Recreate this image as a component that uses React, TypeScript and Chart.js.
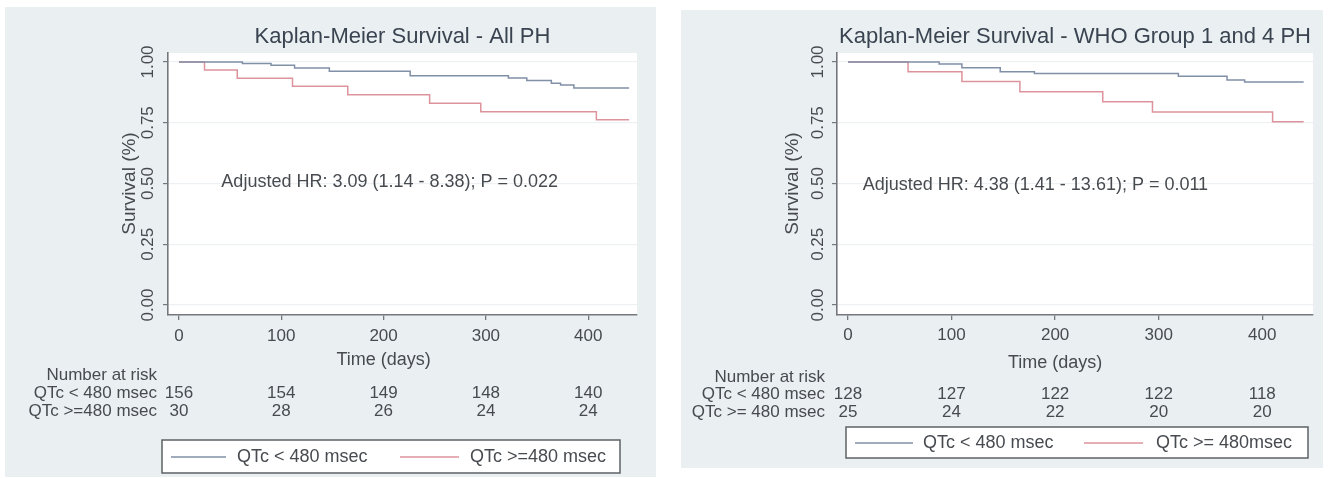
import { useEffect, useRef } from "react";
import { Chart, registerables } from "chart.js";

Chart.register(...registerables);

// Shared axis ticks
const timeTicks = [0, 100, 200, 300, 400];
const survivalTicks = [0, 0.25, 0.5, 0.75, 1];
const survivalTickLabels = ["0.00", "0.25", "0.50", "0.75", "1.00"];

// Panel 1: all PH patients
const allTitle = "Kaplan-Meier Survival - All PH";
const allNote = "Adjusted HR: 3.09 (1.14 - 8.38); P = 0.022";
const allDaysLow = [0, 62, 90, 113, 147, 226, 322, 340, 364, 373, 386, 440];
const allSurvLow = [1, 0.994, 0.987, 0.975, 0.962, 0.943, 0.934, 0.924, 0.913, 0.905, 0.893, 0.893];
const allDaysHigh = [0, 25, 57, 111, 165, 245, 295, 408, 440];
const allSurvHigh = [1, 0.967, 0.933, 0.9, 0.865, 0.83, 0.795, 0.762, 0.762];
const allRiskLow = [156, 154, 149, 148, 140];
const allRiskHigh = [30, 28, 26, 24, 24];
const allRowLabels = ["QTc < 480 msec", "QTc >=480 msec"];
const allLegendLabels = ["QTc < 480 msec", "QTc >=480 msec"];

// Panel 2: WHO group 1 and 4 PH
const whoTitle = "Kaplan-Meier Survival - WHO Group 1 and 4 PH";
const whoNote = "Adjusted HR: 4.38 (1.41 - 13.61); P = 0.011";
const whoDaysLow = [0, 88, 110, 147, 180, 319, 366, 383, 440];
const whoSurvLow = [1, 0.992, 0.976, 0.96, 0.953, 0.941, 0.926, 0.918, 0.918];
const whoDaysHigh = [0, 58, 110, 166, 246, 294, 410, 440];
const whoSurvHigh = [1, 0.96, 0.92, 0.878, 0.836, 0.794, 0.754, 0.754];
const whoRiskLow = [128, 127, 122, 122, 118];
const whoRiskHigh = [25, 24, 22, 20, 20];
const whoRowLabels = ["QTc < 480 msec", "QTc >= 480 msec"];
const whoLegendLabels = ["QTc < 480 msec", "QTc >= 480msec"];

const PANEL_BG = "#eaf0f2";
const LOW_COLOR = "#8090a6";
const HIGH_COLOR = "#dd939c";
const TEXT = "#474b50";
const AXIS = "#74787d";
const FONT = '"Liberation Sans", Arial, sans-serif';
const f = (px: number) => `${px}px ${FONT}`;

type Layout = {
  left: number; top: number; width: number; height: number;
  area: { left: number; top: number; right: number; bottom: number };
  xMin: number; xMax: number;
  titleY: number;
  yLabelGap: number; yTitleGap: number;
  xLabelDy: number; xTitleDy: number;
  riskHeadDy: number; riskRow1Dy: number; riskRow2Dy: number; riskLabelGap: number;
  note: { x: number; y: number };
  legend: { x: number; y: number; w: number; h: number; cy: number;
    s1: [number, number]; t1: number; s2: [number, number]; t2: number };
};

type PanelProps = {
  title: string; note: string;
  daysLow: number[]; survLow: number[]; daysHigh: number[]; survHigh: number[];
  riskLow: number[]; riskHigh: number[];
  rowLabels: string[]; legendLabels: string[];
  layout: Layout;
};

const kmDecor = {
  id: "kmDecor",
  beforeDraw(chart: any) {
    const { ctx, chartArea: a, width, height } = chart;
    ctx.save();
    ctx.fillStyle = PANEL_BG;
    ctx.fillRect(0, 0, width, height);
    ctx.fillStyle = "#ffffff";
    ctx.fillRect(a.left, a.top, a.right - a.left, a.bottom - a.top);
    ctx.restore();
  },
  afterDraw(chart: any, _args: any, opts: any) {
    const p: PanelProps = opts.panel;
    if (!p) return;
    const L = p.layout;
    const { ctx, chartArea: a } = chart;
    const xs = chart.scales.x;
    const ys = chart.scales.y;
    ctx.save();
    ctx.textBaseline = "middle";

    // title
    ctx.fillStyle = "#3a4350";
    ctx.font = f(22);
    ctx.textAlign = "center";
    ctx.fillText(p.title, (a.left + a.right) / 2, L.titleY);

    // rotated y tick labels
    ctx.fillStyle = TEXT;
    ctx.font = f(17);
    survivalTicks.forEach((v, i) => {
      ctx.save();
      ctx.translate(a.left - L.yLabelGap, ys.getPixelForValue(v));
      ctx.rotate(-Math.PI / 2);
      ctx.fillText(survivalTickLabels[i], 0, 0);
      ctx.restore();
    });

    // y title
    ctx.font = f(19);
    ctx.save();
    ctx.translate(a.left - L.yTitleGap, ys.getPixelForValue(0.5));
    ctx.rotate(-Math.PI / 2);
    ctx.fillText("Survival (%)", 0, 0);
    ctx.restore();

    // x tick labels
    ctx.font = f(17);
    timeTicks.forEach((t) => {
      ctx.fillText(String(t), xs.getPixelForValue(t), a.bottom + L.xLabelDy);
    });
    ctx.font = f(18);
    ctx.fillText("Time (days)", xs.getPixelForValue(200), a.bottom + L.xTitleDy);

    // hazard ratio note
    ctx.fillText(p.note, xs.getPixelForValue(L.note.x), ys.getPixelForValue(L.note.y));

    // number at risk table
    ctx.font = f(17);
    ctx.textAlign = "right";
    const lx = a.left - L.riskLabelGap;
    ctx.fillText("Number at risk", lx, a.bottom + L.riskHeadDy);
    ctx.fillText(p.rowLabels[0], lx, a.bottom + L.riskRow1Dy);
    ctx.fillText(p.rowLabels[1], lx, a.bottom + L.riskRow2Dy);
    ctx.textAlign = "center";
    timeTicks.forEach((t, i) => {
      const x = xs.getPixelForValue(t);
      ctx.fillText(String(p.riskLow[i]), x, a.bottom + L.riskRow1Dy);
      ctx.fillText(String(p.riskHigh[i]), x, a.bottom + L.riskRow2Dy);
    });

    // legend box
    const g = L.legend;
    ctx.fillStyle = "#ffffff";
    ctx.fillRect(g.x, g.y, g.w, g.h);
    ctx.strokeStyle = "#5d6166";
    ctx.lineWidth = 1.5;
    ctx.strokeRect(g.x, g.y, g.w, g.h);
    ctx.lineWidth = 1.5;
    ctx.strokeStyle = LOW_COLOR;
    ctx.beginPath();
    ctx.moveTo(g.s1[0], g.cy);
    ctx.lineTo(g.s1[1], g.cy);
    ctx.stroke();
    ctx.strokeStyle = HIGH_COLOR;
    ctx.beginPath();
    ctx.moveTo(g.s2[0], g.cy);
    ctx.lineTo(g.s2[1], g.cy);
    ctx.stroke();
    ctx.fillStyle = TEXT;
    ctx.font = f(18);
    ctx.textAlign = "left";
    ctx.fillText(p.legendLabels[0], g.t1, g.cy);
    ctx.fillText(p.legendLabels[1], g.t2, g.cy);

    ctx.restore();
  },
};

function KMPanel(props: PanelProps) {
  const ref = useRef<HTMLCanvasElement>(null);
  useEffect(() => {
    const L = props.layout;
    const pts = (d: number[], s: number[]) => d.map((x, i) => ({ x, y: s[i] }));
    const chart = new Chart(ref.current as HTMLCanvasElement, {
      type: "line",
      data: {
        datasets: [
          {
            label: props.legendLabels[0],
            data: pts(props.daysLow, props.survLow),
            borderColor: LOW_COLOR,
            borderWidth: 1.5,
            pointRadius: 0,
            stepped: true,
            fill: false,
          },
          {
            label: props.legendLabels[1],
            data: pts(props.daysHigh, props.survHigh),
            borderColor: HIGH_COLOR,
            borderWidth: 1.5,
            pointRadius: 0,
            stepped: true,
            fill: false,
          },
        ],
      },
      options: {
        animation: false,
        responsive: false,
        devicePixelRatio: 1,
        layout: {
          padding: {
            left: 0,
            top: L.area.top,
            right: L.width - L.area.right,
            bottom: L.height - L.area.bottom - 30,
          },
        },
        plugins: {
          legend: { display: false },
          title: { display: false },
          tooltip: { enabled: false },
          kmDecor: { panel: props },
        } as any,
        scales: {
          x: {
            type: "linear",
            min: L.xMin,
            max: L.xMax,
            afterBuildTicks: (s: any) => {
              s.ticks = timeTicks.map((v) => ({ value: v }));
            },
            afterFit: (s: any) => {
              s.height = 30;
            },
            ticks: { display: false },
            grid: {
              drawOnChartArea: false,
              drawTicks: true,
              tickLength: 5,
              tickColor: AXIS,
              lineWidth: 1.3,
            },
            border: { display: true, color: AXIS, width: 1.6 },
          },
          y: {
            type: "linear",
            min: -0.041,
            max: 1.037,
            afterBuildTicks: (s: any) => {
              s.ticks = survivalTicks.map((v) => ({ value: v }));
            },
            afterFit: (s: any) => {
              s.width = L.area.left;
            },
            ticks: { display: false },
            grid: {
              drawOnChartArea: true,
              color: "#edf1f4",
              drawTicks: true,
              tickLength: 5,
              tickColor: AXIS,
              lineWidth: 1.2,
            },
            border: { display: true, color: AXIS, width: 1.6 },
          },
        },
      },
      plugins: [kmDecor],
    });
    return () => chart.destroy();
  }, [props]);

  const L = props.layout;
  return (
    <canvas
      ref={ref}
      width={L.width}
      height={L.height}
      style={{ position: "absolute", left: L.left, top: L.top, width: L.width, height: L.height }}
    />
  );
}

const allLayout: Layout = {
  left: 5, top: 7, width: 651, height: 470,
  area: { left: 163, top: 46, right: 632, bottom: 308 },
  xMin: -10.7, xMax: 447.7,
  titleY: 30,
  yLabelGap: 20, yTitleGap: 38,
  xLabelDy: 21, xTitleDy: 45,
  riskHeadDy: 60, riskRow1Dy: 78, riskRow2Dy: 96, riskLabelGap: 11,
  note: { x: 206, y: 0.506 },
  legend: { x: 157, y: 433, w: 458, h: 33, cy: 450, s1: [166, 221], t1: 232, s2: [395, 454], t2: 465 },
};

const whoLayout: Layout = {
  left: 681, top: 10, width: 642, height: 458,
  area: { left: 156, top: 43, right: 632, bottom: 305 },
  xMin: -10.6, xMax: 449,
  titleY: 27,
  yLabelGap: 19, yTitleGap: 44,
  xLabelDy: 20, xTitleDy: 48,
  riskHeadDy: 62, riskRow1Dy: 79, riskRow2Dy: 97, riskLabelGap: 12,
  note: { x: 181, y: 0.494 },
  legend: { x: 165, y: 417, w: 462, h: 31, cy: 433, s1: [174, 232], t1: 242, s2: [403, 462], t2: 475 },
};

const allPanel: PanelProps = {
  title: allTitle, note: allNote,
  daysLow: allDaysLow, survLow: allSurvLow, daysHigh: allDaysHigh, survHigh: allSurvHigh,
  riskLow: allRiskLow, riskHigh: allRiskHigh,
  rowLabels: allRowLabels, legendLabels: allLegendLabels,
  layout: allLayout,
};

const whoPanel: PanelProps = {
  title: whoTitle, note: whoNote,
  daysLow: whoDaysLow, survLow: whoSurvLow, daysHigh: whoDaysHigh, survHigh: whoSurvHigh,
  riskLow: whoRiskLow, riskHigh: whoRiskHigh,
  rowLabels: whoRowLabels, legendLabels: whoLegendLabels,
  layout: whoLayout,
};

export default function App() {
  return (
    <div style={{ position: "absolute", left: 0, top: 0, width: 1337, height: 478, background: "#ffffff", overflow: "hidden" }}>
      <KMPanel {...allPanel} />
      <KMPanel {...whoPanel} />
    </div>
  );
}
